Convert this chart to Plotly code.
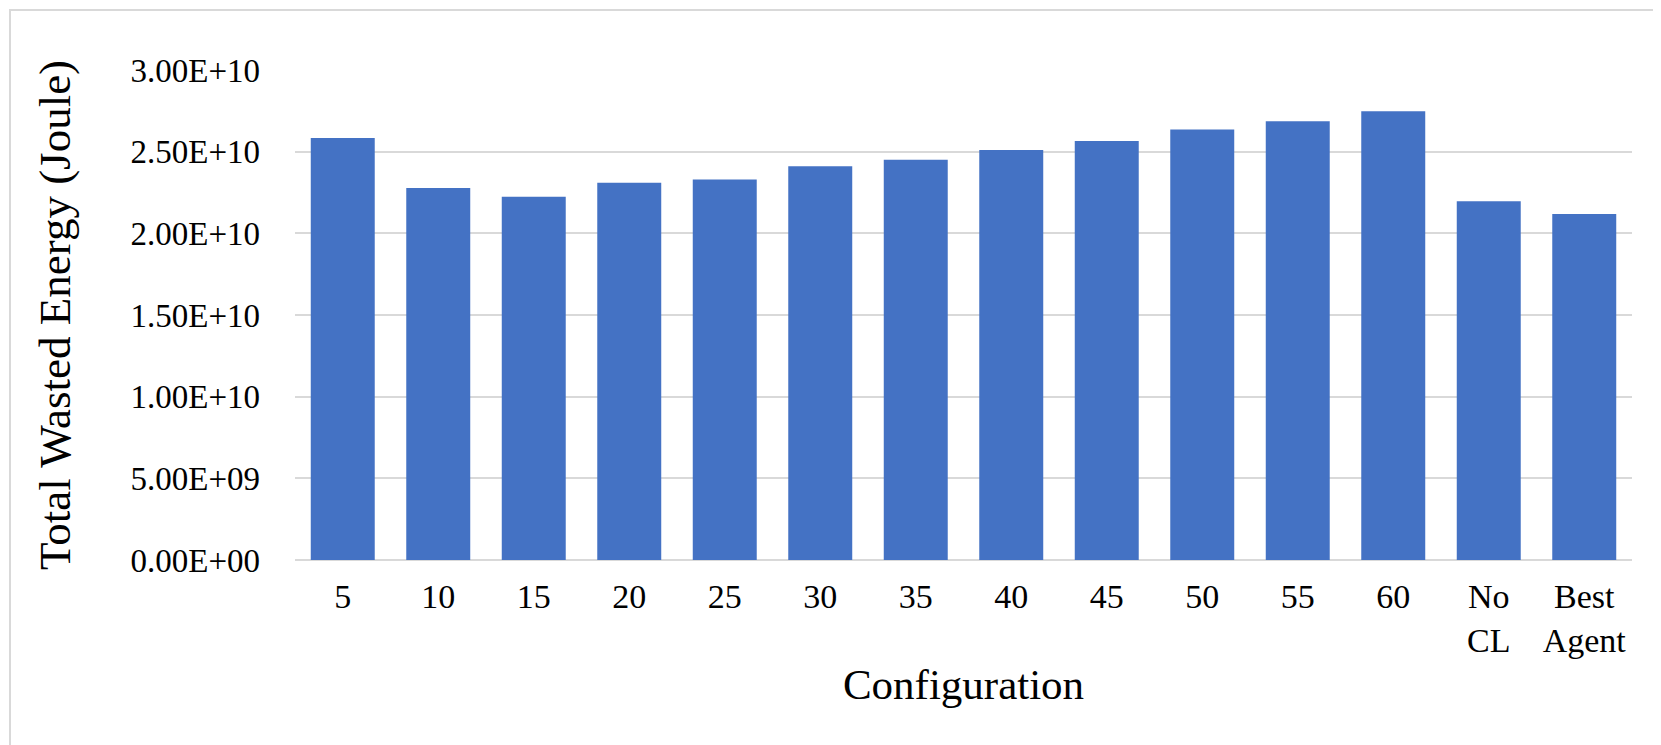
import plotly.graph_objects as go

categories = ["5", "10", "15", "20", "25", "30", "35", "40", "45", "50", "55", "60", "No<br>CL", "Best<br>Agent"]
wasted_energy = [2.583e10, 2.278e10, 2.224e10, 2.31e10, 2.33e10, 2.41e10, 2.45e10,
                 2.51e10, 2.565e10, 2.636e10, 2.686e10, 2.747e10, 2.196e10, 2.119e10]
y_tick_vals = [0, 5e9, 1e10, 1.5e10, 2e10, 2.5e10, 3e10]
y_tick_text = ["0.00E+00", "5.00E+09", "1.00E+10", "1.50E+10", "2.00E+10", "2.50E+10", "3.00E+10"]

W, H = 1661, 745
ML, MR, MT, MB = 287, 37, 62, 193
FONT = "Liberation Serif, Times New Roman, serif"

fig = go.Figure(go.Bar(x=categories, y=wasted_energy, marker_color="#4472C4",
                       marker_line_width=0))

pw = W - ML - MR
ph = H - MT - MB

fig.update_layout(
    width=W, height=H,
    margin=dict(l=ML, r=MR, t=MT, b=MB, autoexpand=False),
    paper_bgcolor="white", plot_bgcolor="white",
    bargap=0.33,
    showlegend=False,
    font=dict(family=FONT, color="black", size=34),
    xaxis=dict(
        title=dict(text="Configuration", font=dict(size=43, family=FONT), standoff=10),
        tickfont=dict(size=34, family=FONT),
        showgrid=False, showline=False, ticks="", ticklabelstandoff=13,
        automargin=False,
    ),
    yaxis=dict(
        range=[0, 3e10],
        tickvals=y_tick_vals, ticktext=y_tick_text,
        tickfont=dict(size=33, family=FONT),
        showgrid=True, gridcolor="#d9d9d9", gridwidth=1.5,
        zeroline=True, zerolinecolor="#d9d9d9", zerolinewidth=1.5,
        showline=False, ticks="", ticklabelstandoff=34,
        title=dict(text="Total Wasted Energy (Joule)", font=dict(size=45, family=FONT), standoff=45),
        automargin=False,
    ),
    shapes=[dict(
        type="rect", xref="paper", yref="paper",
        x0=(2 - ML) / pw, x1=(W - 3 - ML) / pw,
        y0=-(H - 2 - MT - ph) / ph, y1=(MT - 2 + ph) / ph,
        line=dict(color="#d9d9d9", width=2), fillcolor="rgba(0,0,0,0)", layer="below",
    )],
)

fig.write_html("out.html")
